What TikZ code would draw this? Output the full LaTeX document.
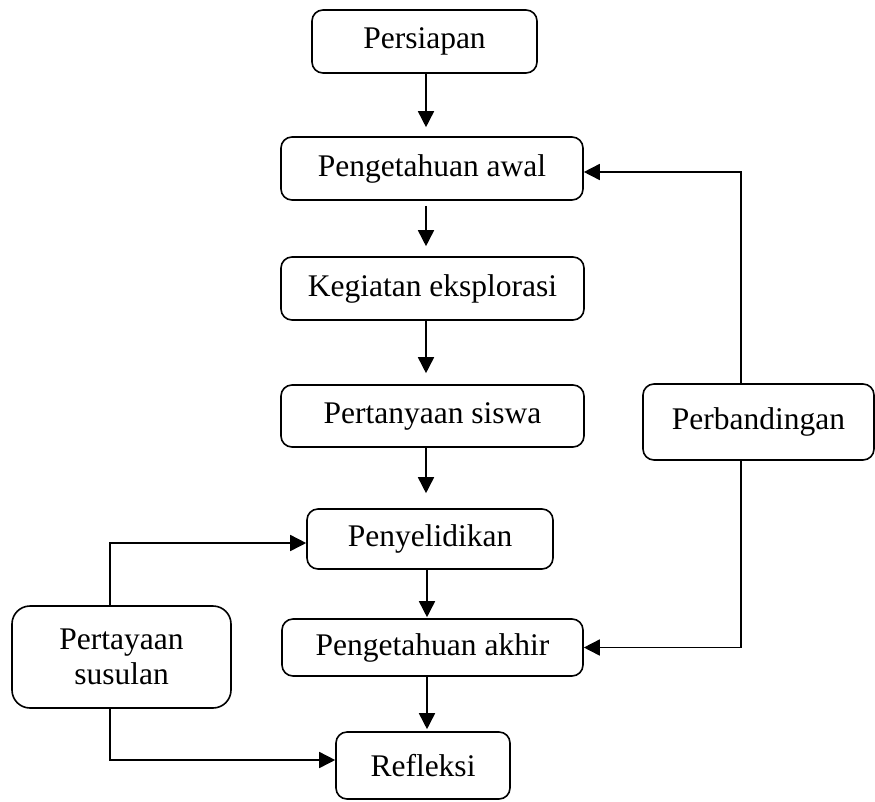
\documentclass[tikz,border=0pt]{standalone}
\usepackage{fontspec}
\setmainfont{Liberation Serif}
\usetikzlibrary{arrows.meta}
\begin{document}
\begin{tikzpicture}[x=1pt,y=-1pt,
  box/.style={draw, line width=1.6pt, rounded corners=11pt, inner sep=0pt,
    font=\fontsize{31.5}{35}\selectfont, align=center},
  arr/.style={line width=1.6pt, -{Triangle[length=16pt,width=16pt]}},
  ln/.style={line width=1.5pt}]
\useasboundingbox (0,0) rectangle (875,801);
\node[box, minimum width=225pt, minimum height=63pt] (persiapan) at (424.5,41.5) {Persiapan};
\node[box, minimum width=302pt, minimum height=63pt] (awal) at (432,168.5) {Pengetahuan awal};
\node[box, minimum width=303pt, minimum height=63pt] (kegiatan) at (432.5,288.5) {Kegiatan eksplorasi};
\node[box, minimum width=303pt, minimum height=62pt] (siswa) at (432.5,416) {Pertanyaan siswa};
\node[box, minimum width=246pt, minimum height=60pt] (selidik) at (430,539) {Penyelidikan};
\node[box, minimum width=301pt, minimum height=57pt] (akhir) at (432.5,647.5) {Pengetahuan akhir};
\node[box, minimum width=174pt, minimum height=67pt] (refleksi) at (423,765.5) {Refleksi};
\node[box, minimum width=231pt, minimum height=76pt] (banding) at (758.5,422) {Perbandingan};
\node[box, minimum width=219pt, minimum height=102pt, rounded corners=18pt] (susulan) at (121.5,657) {Pertayaan\\susulan};

\coordinate (pA) at ([xshift=1.5pt]persiapan.south);
\draw[arr, shorten >=9pt] (pA) -- (pA |- awal.north);
\coordinate (aA) at ([xshift=-6pt]awal.south);
\draw[arr, shorten <=5pt, shorten >=10pt] (aA) -- (aA |- kegiatan.north);
\coordinate (kA) at ([xshift=-6.5pt]kegiatan.south);
\draw[arr, shorten >=11pt] (kA) -- (kA |- siswa.north);
\coordinate (sA) at ([xshift=-6.5pt]siswa.south);
\draw[arr, shorten >=15pt] (sA) -- (sA |- selidik.north);
\coordinate (yA) at ([xshift=-3pt]selidik.south);
\draw[arr, shorten >=1pt] (yA) -- (yA |- akhir.north);
\coordinate (hA) at ([xshift=-5.5pt]akhir.south);
\draw[arr, shorten >=2pt] (hA) -- (hA |- refleksi.north);

\draw[arr] ([xshift=-17.5pt]banding.north) |- ([yshift=-3.5pt]awal.east);
\draw[arr] ([xshift=-17.5pt]banding.south) |- (akhir.east);

\draw[arr] ([xshift=-11.5pt]susulan.north) |- ([yshift=-4pt]selidik.west);
\draw[arr] ([xshift=-11.5pt]susulan.south) |- ([yshift=5.5pt]refleksi.west);
\end{tikzpicture}
\end{document}
